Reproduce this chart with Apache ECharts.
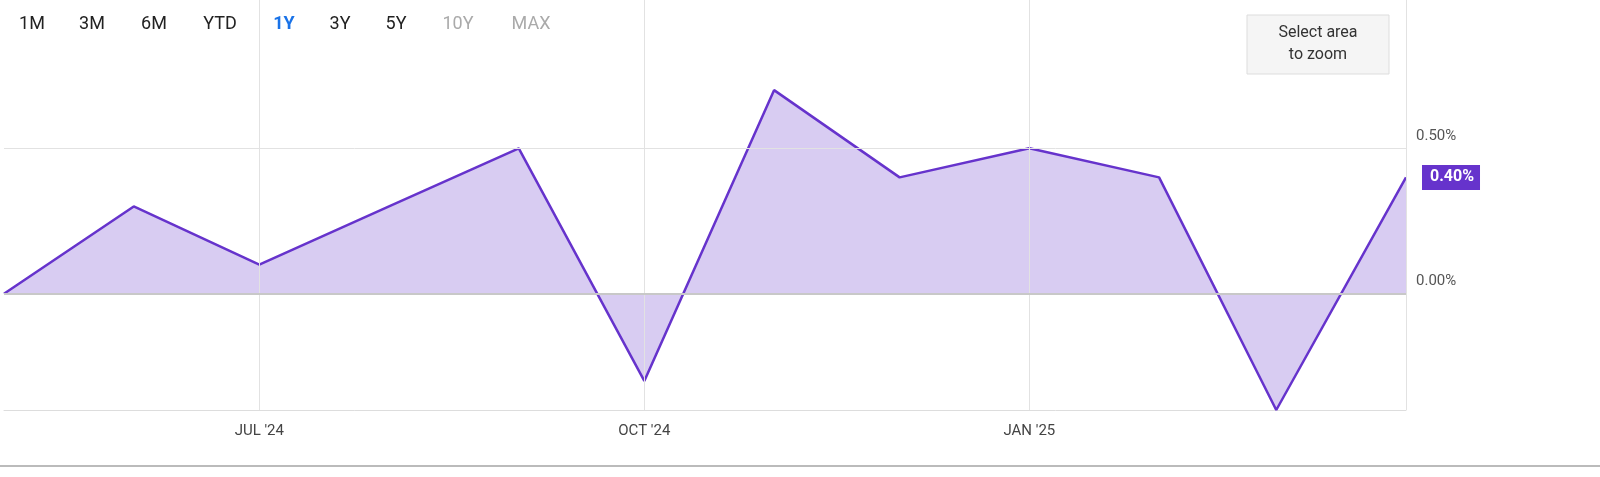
<!DOCTYPE html>
<html><head><meta charset="utf-8">
<script src="https://cdn.jsdelivr.net/npm/echarts@6/dist/echarts.min.js"></script>
<style>html,body{margin:0;padding:0;background:#fff}#c{width:1600px;height:477px}</style>
</head><body><div id="c"></div>
<script>
const dates = ['2024-05-01','2024-06-01','2024-07-01','2024-08-01','2024-09-01','2024-10-01','2024-11-01','2024-12-01','2025-01-01','2025-02-01','2025-03-01','2025-04-01'];
const values = [0.0,0.30,0.10,0.30,0.50,-0.30,0.70,0.40,0.50,0.40,-0.40,0.40];
const xTicks = [['2024-07-01',"JUL '24"],['2024-10-01',"OCT '24"],['2025-01-01',"JAN '25"]];
const yTicks = [[0.5,'0.50%'],[0,'0.00%']];
const ranges = ['1M','3M','6M','YTD','1Y','3Y','5Y','10Y','MAX'];
const rangeX = [32,92,154,220,284,340,396,458,531];
const rangeCol = ['#222','#222','#222','#222','#1a73e8','#222','#222','#aaa','#aaa'];

const chart = echarts.init(document.getElementById('c'));
chart.setOption({
  animation:false,
  grid:{left:4,right:194,top:0,bottom:67},
  xAxis:{type:'time',min:'2024-05-01',max:'2025-04-01',axisLabel:{show:false},axisTick:{show:false},
    axisLine:{show:true,onZero:false,lineStyle:{color:'#ddd'}},splitLine:{show:false}},
  yAxis:{type:'value',min:-0.4,max:1.01,axisLabel:{show:false},splitLine:{show:false},axisLine:{show:false}},
  series:[{
    type:'line',data:dates.map((d,i)=>[d,values[i]]),symbol:'none',
    lineStyle:{color:'#6633cc',width:2.5},
    areaStyle:{color:'#d8ccf2',opacity:1,origin:0},
    markLine:{silent:true,symbol:'none',
      data:[
        ...xTicks.map(t=>({xAxis:t[0],label:{formatter:t[1],position:'start',distance:14,color:'#444',fontSize:15,fontFamily:'Roboto'},lineStyle:{color:'#e2e2e2',width:1,type:'solid'}})),
        {xAxis:'2025-04-01',label:{show:false},lineStyle:{color:'#e2e2e2',width:1,type:'solid'}},
        ...yTicks.map(t=>({yAxis:t[0],label:{formatter:t[1],position:'end',distance:10,color:'#555',fontSize:15,fontFamily:'Roboto',offset:[0,-12]},lineStyle:{color:t[0]===0?'#c8c8c8':'#e2e2e2',width:t[0]===0?2:1,type:'solid'}}))
      ]},
    endLabel:{show:true,formatter:'0.40%',color:'#fff',fontWeight:'bold',fontSize:16,fontFamily:'Roboto',
      backgroundColor:'#6633cc',padding:[5,6,4,8],offset:[8,0]}
  }],
  graphic:[
    ...ranges.map((r,i)=>({type:'text',x:rangeX[i],y:24,style:{text:r,fill:rangeCol[i],font:(i===4?'bold ':'')+'18px Roboto',textAlign:'center',textVerticalAlign:'middle'}})),
    {type:'rect',shape:{x:1247,y:15,width:142,height:59},style:{fill:'#f5f5f5',stroke:'#ddd'}},
    {type:'text',x:1318,y:44,style:{text:'Select area\nto zoom',fill:'#333',font:'16px Roboto',textAlign:'center',textVerticalAlign:'middle',lineHeight:22}},
    {type:'line',shape:{x1:0,y1:466,x2:1600,y2:466},style:{stroke:'#bbb',lineWidth:2}}
  ]
});
</script></body></html>
